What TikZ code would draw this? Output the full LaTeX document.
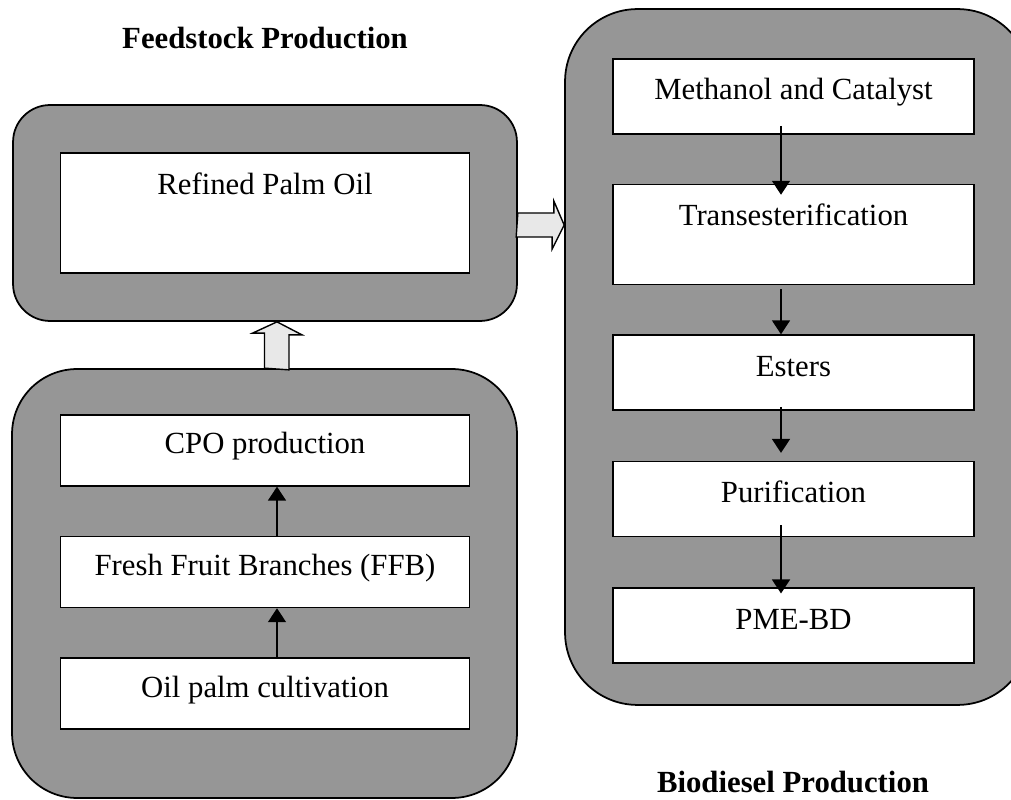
\documentclass[tikz,border=0pt]{standalone}
\usepackage{fontspec}
\setmainfont{Liberation Serif}
\usetikzlibrary{arrows.meta, positioning, calc}
\definecolor{panel}{HTML}{969696}
\definecolor{fatfill}{HTML}{E8E8E8}

\begin{document}
\begin{tikzpicture}[
  x=0.02cm, y=-0.02cm,
  node distance=0.98cm,
  group/.style={draw=black, fill=panel, line width=1pt},
  stage/.style={draw=black, fill=white, line width=0.9pt, inner sep=0pt,
                font=\fontsize{17.5}{21}\selectfont, align=center,
                text height=0.42cm, text depth=0.28cm},
  title/.style={font=\fontsize{17.5}{21}\selectfont\bfseries},
  arr/.style={-{Triangle[length=0.28cm, width=0.36cm]}, line width=0.9pt},
  fatarr/.style={draw=black, fill=fatfill, line width=0.8pt, line join=miter}
]
  \useasboundingbox (0,0) rectangle (1011,800);

  % Panels
  \node[group, minimum width=10.08cm, minimum height=4.32cm,
        rounded corners=0.74cm] (feed) at (265,213) {};
  \node[group, minimum width=10.1cm, minimum height=8.58cm,
        rounded corners=1.3cm] (farm) at (264.5,583.5) {};
  \node[group, minimum width=9.3cm, minimum height=13.92cm,
        rounded corners=1.45cm] (bio) at (797.5,357) {};

  % Titles
  \node[title] (ftitle) at (265,38) {Feedstock Production};
  \node[title] (btitle) at (793,782) {Biodiesel Production};

  % Feedstock side
  \node[stage, minimum width=8.18cm, minimum height=2.4cm,
        text depth=1.16cm] (rpo) at (feed) {Refined Palm Oil};
  \node[stage, minimum width=8.18cm, minimum height=1.42cm] (oil)
    at (265,693.5) {Oil palm cultivation};
  \node[stage, minimum width=8.18cm, minimum height=1.42cm,
        above=of oil] (ffb) {Fresh Fruit Branches (FFB)};
  \node[stage, minimum width=8.18cm, minimum height=1.42cm,
        above=of ffb] (cpo) {CPO production};

  % Biodiesel side
  \node[stage, minimum width=7.22cm, minimum height=1.5cm] (meth)
    at (793.5,96.5) {Methanol and Catalyst};
  \node[stage, minimum width=7.22cm, minimum height=2.0cm,
        text depth=0.8cm, below=of meth] (trans) {Transesterification};
  \node[stage, minimum width=7.22cm, minimum height=1.5cm,
        below=of trans] (est) {Esters};
  \node[stage, minimum width=7.22cm, minimum height=1.5cm,
        below=1cm of est] (pur) {Purification};
  \node[stage, minimum width=7.22cm, minimum height=1.5cm,
        below=1cm of pur] (pme) {PME-BD};

  % Arrows -- feedstock chain
  \draw[arr] ([xshift=0.24cm]oil.north) -- ([xshift=0.24cm]ffb.south);
  \draw[arr] ([xshift=0.24cm]ffb.north) -- ([xshift=0.24cm]cpo.south);

  % Arrows -- biodiesel chain
  \draw[arr, shorten <=-0.18cm, shorten >=-0.22cm]
    ([xshift=-0.25cm]meth.south) -- ([xshift=-0.25cm]trans.north);
  \draw[arr, shorten <=0.08cm]
    ([xshift=-0.25cm]trans.south) -- ([xshift=-0.25cm]est.north);
  \draw[arr, shorten <=-0.08cm, shorten >=0.16cm]
    ([xshift=-0.25cm]est.south) -- ([xshift=-0.25cm]pur.north);
  \draw[arr, shorten <=-0.24cm, shorten >=-0.12cm]
    ([xshift=-0.25cm]pur.south) -- ([xshift=-0.25cm]pme.north);

  % Block arrows between panels
  \draw[fatarr] (farm.north) -- ++(0,-35) -- ++(-12,0)
    -- ([xshift=0.24cm]feed.south) -- ++(25,13) -- ++(-13,0) -- ++(0,35) -- cycle;
  \coordinate (mid) at ([yshift=-0.24cm]feed.east);
  \draw[fatarr] (feed.east) -- ++(36,0) -- ++(0,-12)
    -- (mid -| bio.west) -- ++(-12,24) -- ++(0,-12) -- ++(-36,0) -- cycle;
\end{tikzpicture}
\end{document}
